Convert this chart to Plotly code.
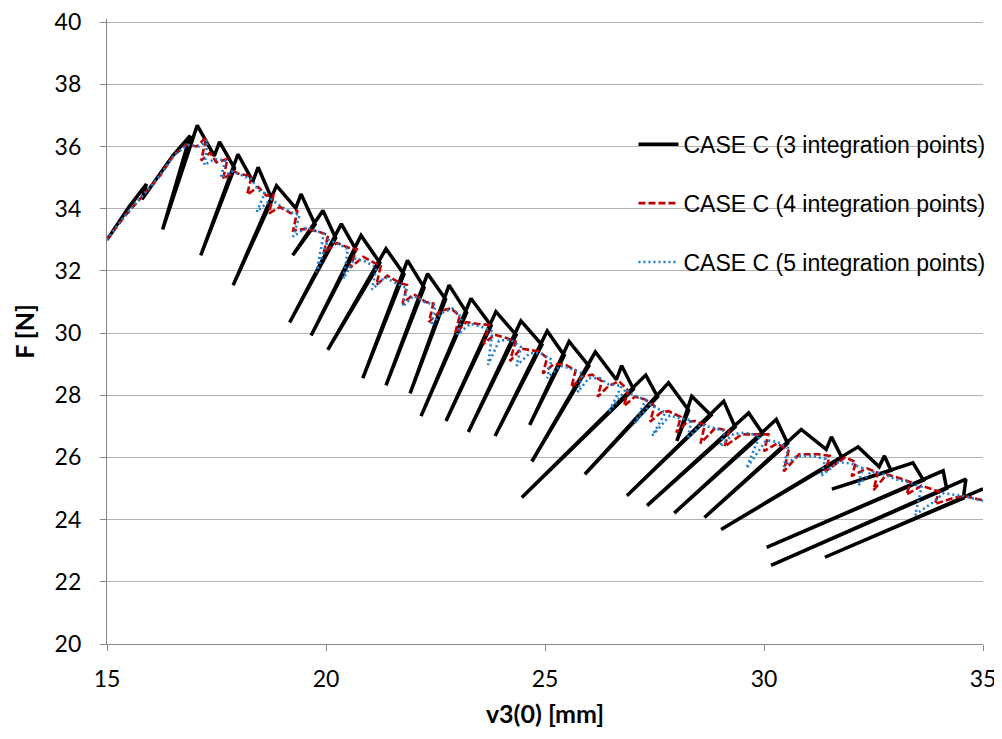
import plotly.graph_objects as go

# CASE C (3 integration points): peak -> low -> snap-back bottom -> next peak
x3 = [15.00, 15.50, 15.90, 15.80, 16.50, 16.90, 16.27,
      17.06, 17.45,
      17.57, 17.91, 17.14,
      17.99, 18.33,
      18.45, 18.77, 17.88,
      18.87, 19.31,
      19.43, 19.75, 19.24,
      19.93, 20.22, 19.17,
      20.35, 20.68, 19.66,
      20.80, 21.23, 20.04,
      21.37, 21.78, 20.84,
      21.86, 22.24, 21.37,
      22.32, 22.73, 21.92,
      22.81, 23.21, 22.17,
      23.31, 23.77, 22.74,
      23.88, 24.34, 23.25,
      24.45, 24.93, 23.86,
      25.05, 25.44, 24.65,
      25.55, 26.00, 24.70,
      26.15, 26.63,
      26.75, 27.02, 24.47,
      27.30, 27.57, 25.91,
      27.82, 28.28, 28.01,
      28.35, 28.79, 26.87,
      29.08, 29.34, 27.33,
      29.65, 29.97, 27.95,
      30.28, 30.54, 28.64,
      30.85, 31.42,
      31.54, 31.78, 29.02,
      32.15, 32.63,
      32.75, 32.90, 31.55,
      33.40, 33.64, 30.06,
      34.09, 34.17, 30.16,
      34.61, 34.55, 31.39,
      35.00]
f3 = [33.00, 34.05, 34.79, 34.30, 35.70, 36.35, 33.33,
      36.68, 35.70,
      36.15, 35.30, 32.50,
      35.75, 34.88,
      35.33, 34.29, 31.54,
      34.74, 34.02,
      34.47, 33.49, 32.50,
      33.94, 33.06, 30.34,
      33.51, 32.69, 29.92,
      33.14, 32.26, 29.46,
      32.71, 31.89, 28.55,
      32.34, 31.46, 28.32,
      31.91, 31.09, 28.06,
      31.54, 30.66, 27.33,
      31.11, 30.24, 27.17,
      30.69, 29.94, 26.82,
      30.39, 29.62, 26.69,
      30.07, 29.28, 27.04,
      29.73, 28.94, 25.87,
      29.39, 28.50,
      28.95, 28.20, 24.71,
      28.65, 27.95, 25.46,
      28.40, 27.52, 26.53,
      27.97, 27.36, 24.77,
      27.81, 26.98, 24.45,
      27.43, 26.77, 24.21,
      27.22, 26.45, 24.07,
      26.90, 26.26,
      26.66, 25.99, 23.68,
      26.34, 25.70,
      26.05, 25.58, 24.98,
      25.83, 25.27, 23.11,
      25.57, 25.00, 22.53,
      25.30, 24.69, 22.79,
      24.99]

# CASE C (4 integration points)
x4 = [15.00, 15.40, 15.75, 16.21, 16.51, 16.82, 17.05, 17.27, 17.15, 17.35,
      17.50, 17.75, 17.65, 17.90, 18.03, 18.30, 18.20, 18.45, 18.64, 18.80,
      18.70, 18.95, 19.20, 19.35, 19.25, 19.55, 19.85, 20.05, 19.95, 20.25,
      20.50, 20.70, 20.55, 20.85, 21.05, 21.25, 21.15, 21.40, 21.70, 21.85,
      21.75, 22.00, 22.28, 22.45, 22.35, 22.60, 22.85, 23.05, 22.95, 23.20,
      23.45, 23.72, 23.60, 23.85, 24.10, 24.33, 24.20, 24.45, 24.86, 25.05,
      24.95, 25.20, 25.47, 25.70, 25.60, 25.85, 26.08, 26.30, 26.20, 26.45,
      26.69, 26.90, 26.80, 27.05, 27.29, 27.50, 27.40, 27.65, 27.82, 28.10,
      28.00, 28.25, 28.43, 28.65, 28.55, 28.89, 29.20, 29.10, 29.49, 29.80,
      30.10, 30.00, 30.30, 30.56, 30.45, 30.80, 31.24, 31.50, 31.40, 31.85,
      32.10, 32.00, 32.35, 32.60, 32.50, 32.80, 33.06, 33.35, 33.25, 33.60,
      34.00, 33.90, 34.35, 34.60, 34.89, 35.00]
f4 = [33.00, 33.75, 34.31, 35.06, 35.70, 36.05, 36.00, 36.30, 35.55, 35.80,
      35.49, 35.60, 34.95, 35.20, 35.11, 35.05, 34.45, 34.70, 34.42, 34.45,
      33.85, 34.05, 33.85, 33.95, 33.30, 33.35, 33.25, 33.15, 32.60, 32.90,
      32.75, 32.70, 32.10, 32.45, 32.30, 32.15, 31.55, 31.85, 31.60, 31.55,
      30.95, 31.25, 31.00, 30.95, 30.35, 30.70, 30.80, 30.55, 30.00, 30.35,
      30.30, 30.26, 29.65, 29.95, 29.85, 29.73, 29.10, 29.50, 29.41, 29.20,
      28.70, 29.00, 28.98, 28.80, 28.25, 28.60, 28.66, 28.45, 27.95, 28.30,
      28.45, 28.15, 27.65, 27.95, 27.86, 27.65, 27.15, 27.45, 27.49, 27.30,
      26.80, 27.15, 27.17, 27.05, 26.45, 26.95, 26.85, 26.35, 26.74, 26.75,
      26.74, 26.20, 26.45, 26.21, 25.55, 26.10, 26.10, 26.05, 25.55, 26.00,
      25.85, 25.40, 25.65, 25.51, 24.95, 25.45, 25.35, 25.20, 24.80, 25.09,
      24.90, 24.50, 24.71, 24.75, 24.66, 24.62]

# CASE C (5 integration points)
x5 = [15.00, 15.45, 15.80, 16.20, 16.55, 16.85, 17.10, 17.30, 17.22, 17.45,
      17.70, 17.60, 17.85, 18.10, 18.30, 18.45, 18.60, 18.42, 18.75, 19.00,
      19.25, 19.40, 19.25, 19.55, 19.95, 19.78, 20.05, 20.30, 20.50, 20.40,
      20.65, 20.90, 21.15, 21.05, 21.35, 21.60, 21.85, 21.75, 22.00, 22.25,
      22.50, 22.40, 22.65, 22.89, 23.10, 23.00, 23.30, 23.55, 23.80, 23.70,
      23.95, 24.20, 24.45, 24.35, 24.65, 24.90, 25.15, 25.05, 25.35, 25.60,
      25.85, 25.75, 26.00, 26.25, 26.45, 26.75, 26.45, 26.85, 26.95, 27.20,
      27.30, 27.05, 27.40, 27.60, 27.75, 27.45, 27.85, 28.10, 28.35, 28.25,
      28.55, 28.85, 29.10, 29.00, 29.30, 29.55, 29.90, 29.60, 30.05, 30.30,
      30.55, 30.45, 30.75, 31.10, 31.40, 31.30, 31.70, 32.00, 32.25, 32.15,
      32.45, 32.75, 33.00, 33.30, 33.60, 33.45, 33.85, 34.10, 34.35, 34.60,
      34.85, 35.00]
f5 = [33.00, 33.85, 34.40, 35.05, 35.75, 36.05, 36.00, 36.20, 35.40, 35.60,
      35.55, 35.00, 35.20, 35.05, 34.95, 34.60, 34.50, 33.90, 34.30, 34.05,
      33.85, 33.80, 33.10, 33.40, 33.20, 31.95, 33.00, 32.85, 32.70, 31.75,
      32.40, 32.30, 32.10, 31.40, 31.80, 31.60, 31.45, 30.85, 31.20, 31.00,
      30.90, 30.25, 30.65, 30.79, 30.50, 29.95, 30.30, 30.20, 30.05, 28.98,
      29.75, 29.80, 29.55, 28.95, 29.35, 29.35, 29.15, 28.55, 28.95, 28.85,
      28.70, 28.10, 28.55, 28.55, 28.35, 28.30, 27.45, 28.20, 28.05, 27.90,
      27.85, 27.10, 27.70, 27.55, 27.45, 26.70, 27.35, 27.25, 27.20, 26.60,
      27.05, 26.95, 26.85, 26.35, 26.75, 26.80, 26.70, 25.65, 26.55, 26.50,
      26.30, 25.70, 26.05, 26.05, 25.95, 25.40, 25.85, 25.80, 25.65, 25.10,
      25.55, 25.45, 25.30, 25.20, 25.05, 24.15, 24.55, 24.85, 24.80, 24.75,
      24.65, 24.60]

y_ticks = [20, 22, 24, 26, 28, 30, 32, 34, 36, 38, 40]
x_ticks = [15, 20, 25, 30, 35]

fig = go.Figure()

fig.add_trace(go.Scatter(
    x=x3, y=f3, mode='lines', name='CASE C (3 integration points)',
    legendgroup='g3',
    line=dict(color='#000000', width=3.5)
))
fig.add_trace(go.Scatter(
    x=x4, y=f4, mode='lines', name='CASE C (4 integration points)',
    legendgroup='g4',
    line=dict(color='#C00000', width=2.6, dash='7px,3px')
))
fig.add_trace(go.Scatter(
    x=x5, y=f5, mode='lines', name='CASE C (5 integration points)',
    legendgroup='g5',
    line=dict(color='#1C7DD0', width=2.6, dash='2px,3px')
))

fig.update_layout(
    width=1002, height=739,
    margin=dict(l=99, r=27, t=11, b=103, autoexpand=False),
    plot_bgcolor='white', paper_bgcolor='white',
    font=dict(family='Liberation Sans, Arial, sans-serif', color='#000000'),
    showlegend=True,
    legend=dict(
        x=0.601, y=0.834, xanchor='left', yanchor='top',
        font=dict(family='Liberation Sans, Arial, sans-serif', size=23, color='#000000'),
        bgcolor='rgba(0,0,0,0)', tracegroupgap=26, itemwidth=40
    ),
    xaxis=dict(
        range=[15, 35], tickvals=x_ticks, showgrid=False, zeroline=False,
        showline=True, linecolor='#868686', linewidth=1.3, automargin=False,
        ticks='outside', ticklen=6, tickcolor='#868686', ticklabelstandoff=8,
        ticklabeloverflow='allow',
        tickfont=dict(family='Lato, Open Sans, sans-serif', size=23, color='#000000'),
        title=dict(text='<b>v3(0) [mm]</b>', standoff=14,
                   font=dict(family='Lato, Open Sans, sans-serif', size=25, color='#000000'))
    ),
    yaxis=dict(
        range=[20, 40.1], tickvals=y_ticks, showgrid=True, gridcolor='#B3B3B3', gridwidth=1.3,
        zeroline=False, showline=True, linecolor='#868686', linewidth=1.3, automargin=False,
        ticks='outside', ticklen=6, tickcolor='#868686', ticklabelstandoff=14,
        ticklabeloverflow='allow',
        tickfont=dict(family='Lato, Open Sans, sans-serif', size=23, color='#000000'),
        title=dict(text='<b>F [N]</b>', standoff=12,
                   font=dict(family='Lato, Open Sans, sans-serif', size=25, color='#000000'))
    )
)

fig.write_html("out.html")
